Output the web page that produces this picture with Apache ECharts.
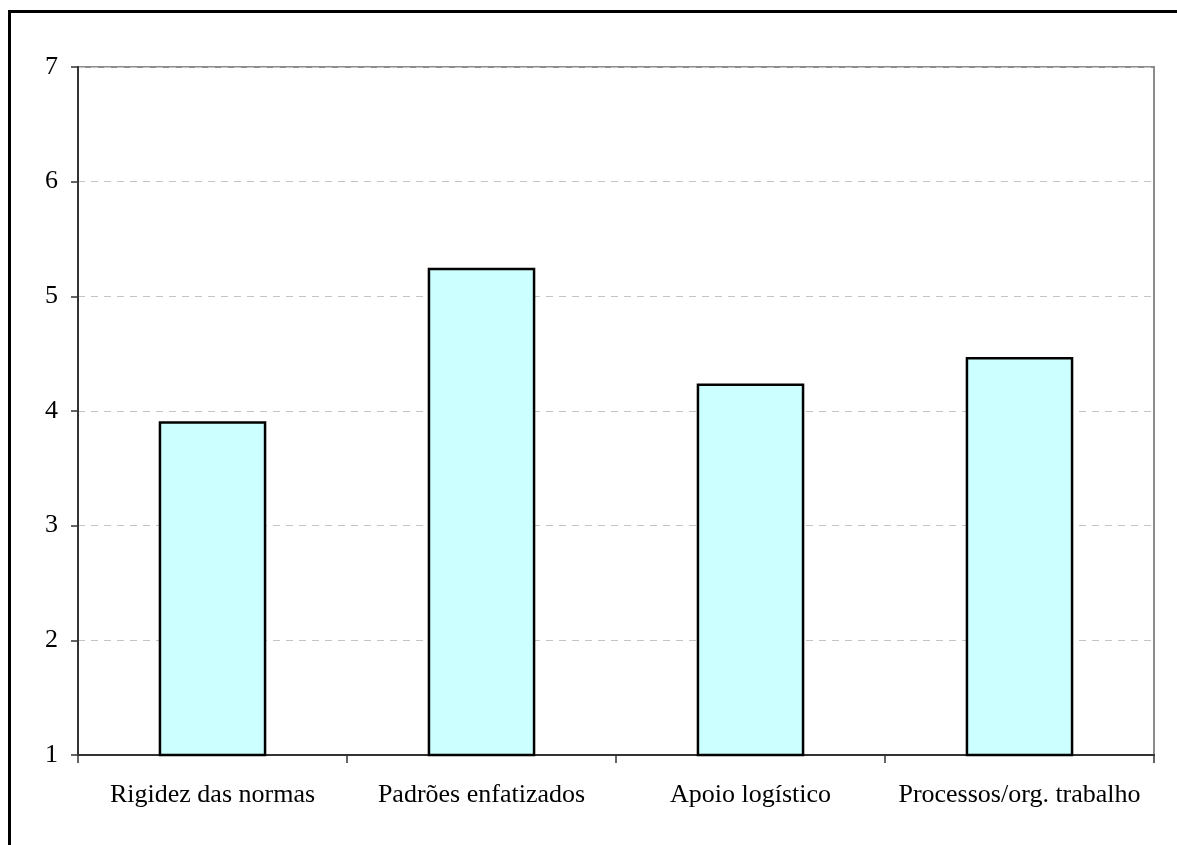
<!DOCTYPE html>
<html>
<head>
<meta charset="utf-8">
<script src="https://cdn.jsdelivr.net/npm/echarts@6/dist/echarts.min.js"></script>
<style>
html,body{margin:0;padding:0;background:#fff;}
#chart{width:1177px;height:845px;}
</style>
</head>
<body>
<div id="chart"></div>
<script>
const categories = ['Rigidez das normas', 'Padrões enfatizados', 'Apoio logístico', 'Processos/org. trabalho'];
const values = [3.91, 5.25, 4.24, 4.47];
const yTicks = [1, 2, 3, 4, 5, 6, 7];

const chart = echarts.init(document.getElementById('chart'));
const font = '"Liberation Serif", "Times New Roman", serif';
chart.setOption({
  animation: false,
  backgroundColor: '#fff',
  graphic: [{
    type: 'rect',
    shape: { x: 9.5, y: 11.5, width: 1200, height: 900 },
    style: { fill: 'none', stroke: '#000', lineWidth: 3 },
    silent: true
  }],
  grid: {
    left: 78, top: 67, right: 23, bottom: 90,
    show: true, borderColor: '#8c8c8c', borderWidth: 2, backgroundColor: 'transparent'
  },
  xAxis: {
    type: 'category',
    data: categories,
    boundaryGap: true,
    axisLine: { lineStyle: { color: '#333', width: 2 } },
    axisTick: { show: true, length: 8, lineStyle: { color: '#333', width: 1.5 } },
    axisLabel: { color: '#000', fontFamily: font, fontSize: 26, margin: 27, interval: 0 }
  },
  yAxis: {
    type: 'value',
    min: yTicks[0], max: yTicks[yTicks.length - 1], interval: 1,
    axisLine: { show: true, lineStyle: { color: '#333', width: 2 } },
    axisTick: { show: true, length: 7, lineStyle: { color: '#333', width: 1.5 } },
    axisLabel: { color: '#000', fontFamily: font, fontSize: 26, margin: 20 },
    splitLine: { show: true, lineStyle: { color: '#c4c4c4', type: [7, 6], width: 1 } }
  },
  series: [{
    type: 'bar',
    data: values,
    barWidth: '40%',
    itemStyle: { color: '#ccffff', borderColor: '#000', borderWidth: 2.5 }
  }]
});
</script>
</body>
</html>
